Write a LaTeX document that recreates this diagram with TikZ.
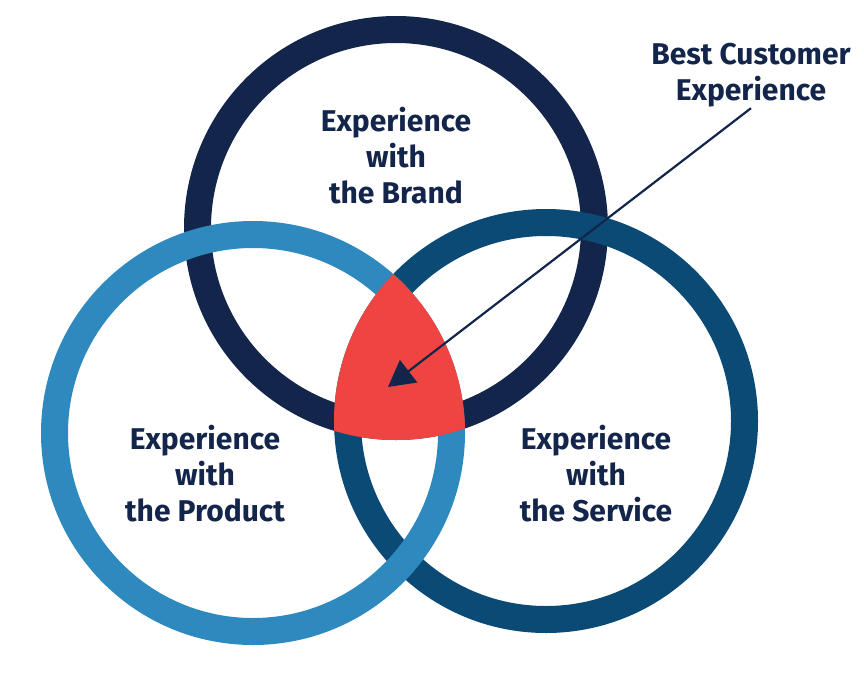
\documentclass[tikz,border=0pt]{standalone}
\usepackage{fontspec}
\setmainfont{Fira Sans}
\usetikzlibrary{arrows.meta, positioning}
\definecolor{navy}{HTML}{13254A}
\definecolor{skyblue}{HTML}{2E89BE}
\definecolor{seablue}{HTML}{0B4A75}
\definecolor{hotred}{HTML}{EF4542}

\begin{document}
\begin{tikzpicture}[
      x=1pt, y=-1pt,
      ring/.style={draw=#1, line width=27pt},
      txt/.style={font=\bfseries\fontsize{30}{36}\selectfont, text=navy, align=center},
      arrow/.style={-{Triangle[length=26pt, width=28pt]}, line width=2.2pt, draw=navy}
    ]
    \useasboundingbox (0,0) rectangle (864,680);

    \coordinate (cb) at (396,228);
    \coordinate (cp) at (253,433);
    \coordinate (cs) at (546,421);

    \draw[ring=navy] (cb) circle (198.5pt);
    \draw[ring=seablue] (cs) circle (198.5pt);
    \draw[ring=skyblue] (cp) circle (198.5pt);

    % common part of the three
    \begin{scope}
      \clip (cp) circle (212pt);
      \clip (cs) circle (212pt);
      \fill[hotred] (cb) circle (212pt);
    \end{scope}

    \node[txt] (br) at (396,156) {Experience\\with\\the Brand};
    \node[txt] (pr) at (205,474) {Experience\\with\\the Product};
    \node[txt] (sv) at (596,474) {Experience\\with\\the Service};
    \node[txt, inner sep=1pt] (best) at (751,75) {Best Customer\\Experience};

    \coordinate (tip) at (388,387);
    \draw[arrow] (best.south) -- (tip);
  \end{tikzpicture}
\end{document}
